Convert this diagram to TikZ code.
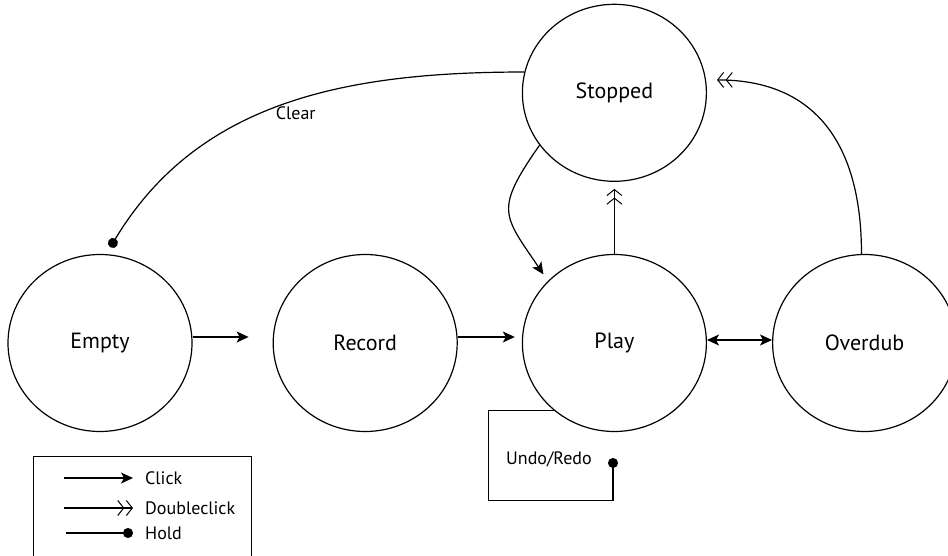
\documentclass[tikz,border=0pt]{standalone}
\usepackage{fontspec}
\setmainfont{PT Sans}
\usetikzlibrary{
    positioning,
    arrows.meta,
    shapes.geometric
}

\begin{document}
\begin{tikzpicture}[
    x=1pt, y=1pt,
    font=\fontsize{22}{26}\selectfont,
    node distance=64pt,
    state/.style={
        ellipse, draw=black, line width=1.2pt,
        minimum width=184pt, minimum height=177pt, inner sep=0pt
    },
    smalllabel/.style={
        font=\fontsize{18}{22}\selectfont, inner sep=2pt
    },
    legendbox/.style={
        rectangle, draw=black, line width=1.2pt,
        minimum width=218pt, minimum height=120pt, inner sep=0pt
    },
    click/.style={-{Stealth[length=12pt, width=11pt, inset=3pt]}, line width=1.2pt},
    dclick/.style={-{Straight Barb[length=6pt, width=15pt, sep=1.5pt, line width=1pt]
        Straight Barb[length=6pt, width=15pt, line width=1pt]}, line width=1.2pt},
    hold/.style={-{Circle[length=10pt]}, line width=1.2pt},
    twoway/.style={{Stealth[length=12pt, width=11pt, inset=3pt]}-{Stealth[length=12pt, width=11pt, inset=3pt]},
        line width=1.2pt}
]
\useasboundingbox (0,0) rectangle (948,555);

% States
\node[state] (empty) at (100,212) {Empty};
\node[state, right=80pt of empty] (record) {Record};
\node[state, right=of record] (play) {Play};
\node[state, right=65pt of play] (overdub) {Overdub};
\node[state, above=72pt of play] (stopped) {Stopped};

% Legend
\node[legendbox, anchor=north west] (legend) at (33,99) {};
\node[smalllabel, anchor=west] (clicktxt) at (143,77) {Click};
\node[smalllabel, anchor=west] (dclicktxt) at (143,47) {Doubleclick};
\node[smalllabel, anchor=west] (holdtxt) at (143,22) {Hold};
\coordinate (clickstart) at (64,77);
\coordinate (dclickstart) at (64,47);
\coordinate (holdstart) at (66,22);

% Undo/Redo loop
\coordinate (undoend) at (613,97);
\node[smalllabel] (undotxt) at (549,96) {Undo/Redo};

% ------------------------------- Arrows --------------------------------------
\draw[click, shorten >=24pt] ([yshift=6pt]empty.east) -- ([yshift=6pt]record.west);
\draw[click, shorten >=7pt] ([yshift=6pt]record.east) -- ([yshift=6pt]play.west);
\draw[twoway] ([yshift=3pt]play.east) -- ([yshift=3pt]overdub.west);
\draw[dclick, shorten >=7pt] (play.north) -- (stopped.south);
\draw[click, shorten >=8pt] (stopped.215) to[out=235, in=124, looseness=1.5] (play.137);
\draw[dclick, shorten >=11pt] (overdub.92) to[out=90, in=0, looseness=1.2] (stopped.8);
\draw[hold, shorten >=8pt] (stopped.167) to[out=180, in=59]
    node[smalllabel, pos=0.47, below=3pt] (cleartxt) {Clear} (empty.86);
\draw[hold] (play.228) -- ++(-65,0) -- ++(0,-90) -| (undoend);

\draw[click, shorten >=10pt] (clickstart) -- (clicktxt.west);
\draw[dclick, shorten >=10pt] (dclickstart) -- (dclicktxt.west);
\draw[hold, shorten >=10pt] (holdstart) -- (holdtxt.west);

\end{tikzpicture}
\end{document}
